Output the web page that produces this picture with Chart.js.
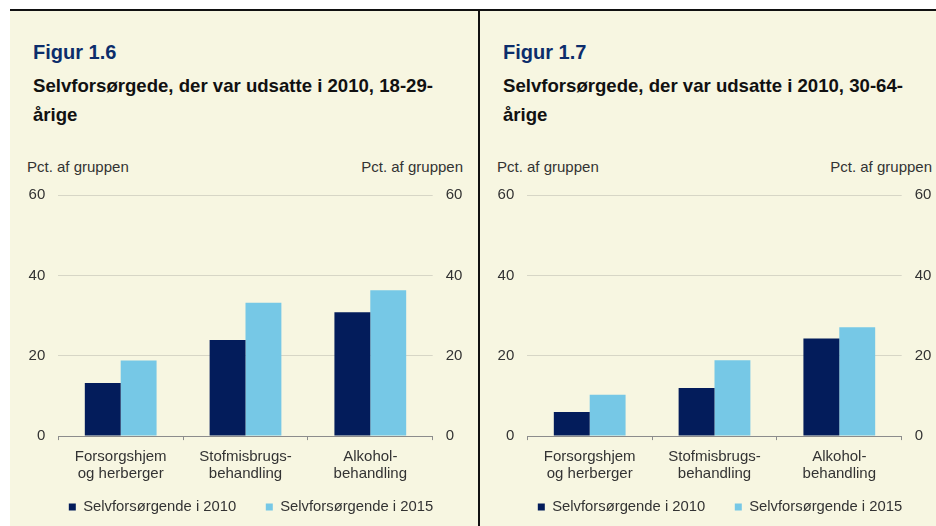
<!DOCTYPE html>
<html><head><meta charset="utf-8">
<script src="https://cdn.jsdelivr.net/npm/chart.js@4"></script>
<style>
html,body{margin:0;padding:0;width:936px;height:526px;overflow:hidden;background:#fff;font-family:"Liberation Sans",Arial,sans-serif;}
#bg{position:absolute;left:10px;top:10px;width:926px;height:516px;background:#F7F6E1;}
.hline{position:absolute;left:10px;top:9px;width:926px;height:2px;background:#111;}
.vline{position:absolute;left:478px;top:9px;width:2px;height:517px;background:#111;}
.title{position:absolute;font-weight:bold;font-size:20px;line-height:24px;color:#0C2D6B;white-space:nowrap;}
.sub{position:absolute;font-weight:bold;font-size:18.6px;line-height:29px;color:#111;white-space:nowrap;}
.unit{position:absolute;font-size:15px;line-height:18px;color:#333;white-space:nowrap;}
canvas{position:absolute;}
</style></head>
<body>
<div id="bg"></div>
<div class="hline"></div>
<div class="vline"></div>

<div class="title" style="left:33px;top:40px;">Figur 1.6</div>
<div class="sub" style="left:33px;top:70.5px;">Selvforsørgede, der var udsatte i 2010, 18-29-<br>årige</div>
<div class="unit" style="left:27px;top:158px;">Pct. af gruppen</div>
<div class="unit" style="right:473px;top:158px;">Pct. af gruppen</div>

<div class="title" style="left:503px;top:40px;">Figur 1.7</div>
<div class="sub" style="left:503px;top:70.5px;">Selvforsørgede, der var udsatte i 2010, 30-64-<br>årige</div>
<div class="unit" style="left:497px;top:158px;">Pct. af gruppen</div>
<div class="unit" style="right:4px;top:158px;">Pct. af gruppen</div>

<canvas id="c1" width="450" height="353" style="left:20px;top:173px;"></canvas>
<canvas id="c2" width="450" height="353" style="left:489px;top:173px;"></canvas>

<script>
// ---- data ----
const categories = [['Forsorgshjem', 'og herberger'], ['Stofmisbrugs-', 'behandling'], ['Alkohol-', 'behandling']];
const seriesNames = ['Selvforsørgende i 2010', 'Selvforsørgende i 2015'];
const fig16_2010 = [13.2, 23.9, 30.8];
const fig16_2015 = [18.8, 33.2, 36.3];
const fig17_2010 = [6.0, 12.0, 24.3];
const fig17_2015 = [10.3, 18.9, 27.1];
const yMin = 0, yMax = 60, yStep = 20;

const FONT = '"Liberation Sans", Arial, sans-serif';
const TXT = '#333333';
const DARK = '#031C5B';
const LIGHT = '#76C8E6';

function noClip(s) { s._computeLabelArea = function () { return undefined; }; }

function makeChart(id, d2010, d2015) {
  return new Chart(document.getElementById(id), {
    type: 'bar',
    data: {
      labels: categories,
      datasets: [
        { label: seriesNames[0], data: d2010, backgroundColor: DARK, borderWidth: 0, yAxisID: 'y' },
        { label: seriesNames[1], data: d2015, backgroundColor: LIGHT, borderWidth: 0, yAxisID: 'y' }
      ]
    },
    options: {
      responsive: false,
      animation: false,
      events: [],
      datasets: { bar: { categoryPercentage: 0.575, barPercentage: 1.0 } },
      layout: { padding: { top: 6.4, left: 12, right: 0, bottom: 1.5 } },
      plugins: {
        tooltip: { enabled: false },
        legend: {
          position: 'bottom',
          labels: {
            boxWidth: 7, boxHeight: 7, padding: 29.6, color: TXT,
            font: { family: FONT, size: 14.8 }
          }
        }
      },
      scales: {
        x: {
          offset: true,
          grid: { offset: true, drawOnChartArea: false, drawTicks: true, tickLength: 4, color: '#8c8c8c', lineWidth: 1 },
          border: { display: true, color: '#8c8c8c', width: 1 },
          ticks: { color: TXT, font: { family: FONT, size: 15, lineHeight: 1.15 }, padding: 8, maxRotation: 0, autoSkip: false },
          afterFit(s) { s.height = 34; noClip(s); }
        },
        y: {
          position: 'left', min: yMin, max: yMax,
          ticks: { stepSize: yStep, padding: 13, color: TXT, font: { family: FONT, size: 15 } },
          grid: { drawTicks: false, lineWidth: 1, color: (c) => (c.tick && c.tick.value === 0) ? 'rgba(0,0,0,0)' : '#D7D6C6' },
          border: { display: false },
          afterFit(s) { s.width = 26.3; noClip(s); }
        },
        y2: {
          position: 'right', min: yMin, max: yMax,
          ticks: { stepSize: yStep, padding: 13, color: TXT, font: { family: FONT, size: 15 } },
          grid: { display: false, drawTicks: false, drawOnChartArea: false },
          border: { display: false },
          afterFit(s) { s.width = 37.3; noClip(s); }
        }
      }
    }
  });
}

makeChart('c1', fig16_2010, fig16_2015);
makeChart('c2', fig17_2010, fig17_2015);
</script>
</body></html>
